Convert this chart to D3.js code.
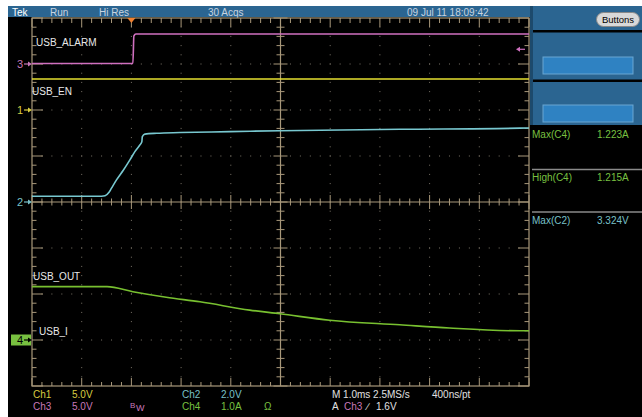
<!DOCTYPE html>
<html>
<head>
  <meta charset="utf-8">
  <style>
    body { margin: 0; background: #fff; }
    text { font-family: "Liberation Sans", Arial, sans-serif; }
  </style>
  <title>USB power switch capture</title>
</head>
<body>
<script src="https://cdn.jsdelivr.net/npm/d3@7"></script>
<script>
// ---- data ----
// time in ms relative to the trigger, values in channel units
var alarmT = [-2, 0.03, 0.05, 0.09, 8];
var alarmV = [0.05, 0.05, 3.05, 3.26, 3.26];

var enT = [-2, 8];
var enV = [3.37, 3.37];

var outT = [-2, -0.6, -0.53, -0.45, -0.40, -0.30, -0.16, -0.03, 0.07, 0.17, 0.21, 0.22, 0.27, 0.51, 0.98, 1.98, 2.99, 5.4, 7.82, 8];
var outV = [0.25, 0.25, 0.27, 0.42, 0.60, 0.96, 1.39, 1.83, 2.19, 2.48, 2.62, 2.84, 2.95, 2.99, 3.02, 3.06, 3.10, 3.16, 3.21, 3.22];

var curT = [-2, -0.49, 0.03, 0.70, 1.38, 2.38, 2.99, 3.99, 5.40, 6.40, 7.82, 8];
var curA = [1.16, 1.16, 1.05, 0.93, 0.83, 0.65, 0.57, 0.43, 0.33, 0.26, 0.20, 0.20];

var chLabels = ["USB_ALARM", "USB_EN", "USB_OUT", "USB_I"];
var measNames = ["Max(C4)", "High(C4)", "Max(C2)"];
var measValues = ["1.223A", "1.215A", "3.324V"];

// ---- screen geometry ----
var width = 642, height = 417;
var x = d3.scaleLinear().domain([-2, 8]).range([32, 529]);     // 1 ms / div
var yDiv = d3.scaleLinear().domain([-4, 4]).range([386, 18]);  // divisions

var grat = "#a8987a", dotc = "#7a7468";

var channels = [
  { id: 3, color: "#d070c0", txt: "#c878b8", perDiv: 5, offset: 3, t: alarmT, v: alarmV },
  { id: 1, color: "#e6e030", txt: "#d8cc40", perDiv: 5, offset: 2, t: enT, v: enV },
  { id: 2, color: "#78c8d0", txt: "#78c0c8", perDiv: 2, offset: 0, t: outT, v: outV },
  { id: 4, color: "#78c030", txt: "#78c040", perDiv: 1, offset: -3, t: curT, v: curA }
];

var svg = d3.select("body").append("svg")
  .attr("width", width)
  .attr("height", height);

// black screen, white margins left/top
svg.append("rect").attr("x", 8).attr("y", 6).attr("width", width - 8).attr("height", height - 6).attr("fill", "#000");

// top status bar
svg.append("rect").attr("x", 8).attr("y", 6).attr("width", 522).attr("height", 11).attr("fill", "#2b6591");
var bar = [["Tek", 12, "#ffffff"], ["Run", 50, "#c8d4e0"], ["Hi Res", 99, "#c8d4e0"], ["30 Acqs", 208, "#c8d4e0"], ["09 Jul 11 18:09:42", 407, "#c8d4e0"]];
svg.selectAll("text.bar").data(bar).enter().append("text")
  .attr("x", function(d) { return d[1]; })
  .attr("y", 15.5)
  .attr("fill", function(d) { return d[2]; })
  .style("font-size", "10px")
  .text(function(d) { return d[0]; });

// right side panel
svg.append("rect").attr("x", 530).attr("y", 6).attr("width", 112).attr("height", 119).attr("fill", "#2b6591");
svg.append("rect").attr("x", 530).attr("y", 30).attr("width", 112).attr("height", 2.5).attr("fill", "#000");
svg.append("rect").attr("x", 530).attr("y", 79.5).attr("width", 112).attr("height", 2.5).attr("fill", "#000");
svg.append("rect").attr("x", 530).attr("y", 6).attr("width", 3).attr("height", 119).attr("fill", "#1d4a6c");
[57, 105].forEach(function(yy) {
  svg.append("rect").attr("x", 543).attr("y", yy).attr("width", 90).attr("height", 17)
    .attr("fill", "#2f82c2").attr("stroke", "#6aa6d2").attr("stroke-width", 1);
});
svg.append("rect").attr("x", 596.5).attr("y", 12.5).attr("width", 43).attr("height", 14).attr("rx", 7)
  .attr("fill", "#d8d8d8").attr("stroke", "#888").attr("stroke-width", 1);
svg.append("text").attr("x", 618).attr("y", 23).attr("text-anchor", "middle")
  .attr("fill", "#000").style("font-size", "9.5px").text("Buttons");

// measurements
[169.5, 212].forEach(function(yy) {
  svg.append("line").attr("x1", 532).attr("x2", 642).attr("y1", yy).attr("y2", yy)
    .attr("stroke", "#8a8a8a").attr("stroke-width", 1.5);
});
var measColor = ["#78c040", "#78c040", "#78c0c8"];
measNames.forEach(function(n, i) {
  var yy = 138 + i * 43;
  svg.append("text").attr("x", 532).attr("y", yy).attr("fill", measColor[i]).style("font-size", "10px").text(n);
  svg.append("text").attr("x", 597).attr("y", yy).attr("fill", measColor[i]).style("font-size", "10px").text(measValues[i]);
});

// ---- graticule ----
var g = svg.append("g");
var vDivs = d3.range(-2, 9, 1);      // time divisions
var hDivs = d3.range(-4, 5, 1);
var minorT = d3.range(-2, 8.001, 0.2);
var minorD = d3.range(-4, 4.001, 0.2);

// dotted grid
vDivs.slice(1, -1).forEach(function(t) {
  if (t === 3) return;
  g.selectAll(null).data(minorD.slice(1, -1)).enter().append("rect")
    .attr("x", x(t) - 0.5).attr("y", function(d) { return yDiv(d) - 0.5; })
    .attr("width", 1).attr("height", 1).attr("fill", dotc);
});
hDivs.slice(1, -1).forEach(function(dv) {
  if (dv === 0) return;
  g.selectAll(null).data(minorT.slice(1, -1)).enter().append("rect")
    .attr("x", function(d) { return x(d) - 0.5; }).attr("y", yDiv(dv) - 0.5)
    .attr("width", 1).attr("height", 1).attr("fill", dotc);
});

// border
g.append("rect").attr("x", x(-2)).attr("y", yDiv(4)).attr("width", x(8) - x(-2)).attr("height", yDiv(-4) - yDiv(4))
  .attr("fill", "none").attr("stroke", grat).attr("stroke-width", 1.2);

// center cross
g.append("line").attr("x1", x(3)).attr("x2", x(3)).attr("y1", yDiv(4)).attr("y2", yDiv(-4)).attr("stroke", grat).attr("stroke-width", 1.2);
g.append("line").attr("x1", x(-2)).attr("x2", x(8)).attr("y1", yDiv(0)).attr("y2", yDiv(0)).attr("stroke", grat).attr("stroke-width", 1.2);

function isMajor(v) { return Math.abs(v - Math.round(v)) < 0.01; }

minorT.forEach(function(t) {
  var maj = isMajor(t);
  var cl = maj ? 7 : 3.5, bl = maj ? 8 : 4;
  g.append("line").attr("x1", x(t)).attr("x2", x(t)).attr("y1", yDiv(0) - cl).attr("y2", yDiv(0) + cl).attr("stroke", grat);
  g.append("line").attr("x1", x(t)).attr("x2", x(t)).attr("y1", yDiv(-4)).attr("y2", yDiv(-4) - bl).attr("stroke", grat);
  g.append("line").attr("x1", x(t)).attr("x2", x(t)).attr("y1", yDiv(4)).attr("y2", yDiv(4) + bl + 1).attr("stroke", grat);
});
minorD.forEach(function(dv) {
  var maj = isMajor(dv);
  var cl = maj ? 7 : 4, bl = maj ? 11 : 4.5;
  g.append("line").attr("y1", yDiv(dv)).attr("y2", yDiv(dv)).attr("x1", x(3) - cl).attr("x2", x(3) + cl).attr("stroke", grat);
  g.append("line").attr("y1", yDiv(dv)).attr("y2", yDiv(dv)).attr("x1", x(-2)).attr("x2", x(-2) + bl).attr("stroke", grat);
  g.append("line").attr("y1", yDiv(dv)).attr("y2", yDiv(dv)).attr("x1", x(8)).attr("x2", x(8) - bl).attr("stroke", grat);
});

// ---- traces ----
channels.forEach(function(ch) {
  var pts = ch.t.map(function(t, i) { return [t, ch.v[i]]; });
  var line = d3.line()
    .x(function(d) { return x(d[0]); })
    .y(function(d) { return yDiv(ch.offset + d[1] / ch.perDiv); })
    .curve(d3.curveMonotoneX);
  svg.append("path").datum(pts)
    .attr("d", line)
    .attr("fill", "none")
    .attr("stroke", ch.color)
    .attr("stroke-width", 1.6);
});

// channel ground markers on the left
channels.forEach(function(ch) {
  var yy = yDiv(ch.offset);
  var fg = ch.txt;
  if (ch.id === 4) {
    svg.append("rect").attr("x", 11).attr("y", yy - 5.5).attr("width", 20).attr("height", 11).attr("fill", "#78c040");
    fg = "#000";
  }
  svg.append("text").attr("x", 17).attr("y", yy + 4).attr("fill", fg).style("font-size", "11px").text(ch.id);
  svg.append("line").attr("x1", 24).attr("x2", 29).attr("y1", yy).attr("y2", yy).attr("stroke", fg).attr("stroke-width", 1.2);
  svg.append("path").attr("d", "M28," + (yy - 2.5) + "L32," + yy + "L28," + (yy + 2.5) + "Z").attr("fill", fg);
});

// trigger position and level
svg.append("path").attr("d", "M" + (x(0) - 4) + ",18L" + (x(0) + 4) + ",18L" + x(0) + ",23Z").attr("fill", "#f08030");
var trigY = yDiv(3 + 1.6 / 5);
svg.append("line").attr("x1", 518).attr("x2", 525).attr("y1", trigY).attr("y2", trigY).attr("stroke", "#d070c0").attr("stroke-width", 1.2);
svg.append("path").attr("d", "M516," + trigY + "L520," + (trigY - 2.5) + "L520," + (trigY + 2.5) + "Z").attr("fill", "#d070c0");

// trace labels
var labelPos = [[36, 46], [32, 94.5], [33, 280], [39, 335]];
chLabels.forEach(function(l, i) {
  svg.append("text").attr("x", labelPos[i][0]).attr("y", labelPos[i][1])
    .attr("fill", "#e8e8e8").style("font-size", "10px").text(l);
});

// ---- bottom readouts ----
var bottom = [
  ["Ch1", 33, 398, "#d8cc40"], ["5.0V", 72, 398, "#d8cc40"],
  ["Ch2", 182, 398, "#78c0c8"], ["2.0V", 221, 398, "#78c0c8"],
  ["Ch3", 33, 410, "#c878b8"], ["5.0V", 72, 410, "#c878b8"],
  ["Ch4", 182, 410, "#78c040"], ["1.0A", 221, 410, "#78c040"], ["\u03a9", 264, 410, "#78c040"],
  ["M 1.0ms 2.5MS/s", 332, 398, "#e0e0e0"], ["400ns/pt", 432, 398, "#e0e0e0"],
  ["A", 332, 410, "#e0e0e0"], ["Ch3", 344, 410, "#c878b8"], ["\u2215", 367, 410, "#e0e0e0"], ["1.6V", 376, 410, "#e0e0e0"]
];
svg.selectAll("text.bot").data(bottom).enter().append("text")
  .attr("x", function(d) { return d[1]; })
  .attr("y", function(d) { return d[2]; })
  .attr("fill", function(d) { return d[3]; })
  .style("font-size", "10px")
  .text(function(d) { return d[0]; });
svg.append("text").attr("x", 130).attr("y", 408).attr("fill", "#c878b8").style("font-size", "8px").text("B");
svg.append("text").attr("x", 136).attr("y", 411).attr("fill", "#c878b8").style("font-size", "9px").text("W");
</script>
</body>
</html>
